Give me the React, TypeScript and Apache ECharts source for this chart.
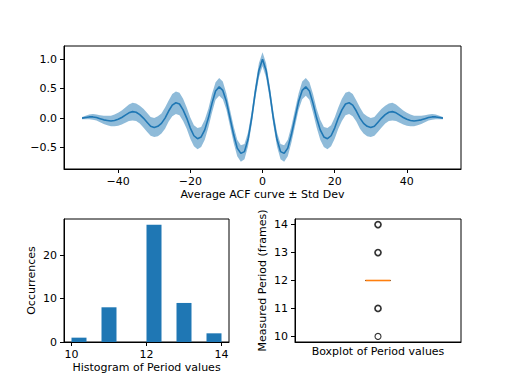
import React, { useEffect, useRef } from "react";
import * as echarts from "echarts";

// ---- Data ----
const lags: number[] = Array.from({ length: 101 }, (_, i) => i - 50);

const acfMean: number[] = [
  0.0, 0.01, 0.02, 0.02, 0.01, -0.01, -0.03, -0.04, -0.05, -0.04,
  -0.02, 0.01, 0.05, 0.09, 0.11, 0.1, 0.06, 0.0, -0.07, -0.14,
  -0.16, -0.14, -0.09, 0.0, 0.12, 0.22, 0.26, 0.24, 0.14, 0.0,
  -0.17, -0.3, -0.35, -0.32, -0.2, 0.0, 0.25, 0.46, 0.53, 0.47,
  0.28, 0.0, -0.28, -0.51, -0.6, -0.57, -0.36, 0.0, 0.44, 0.81,
  1.0,
  0.81, 0.44, 0.0, -0.36, -0.57, -0.6, -0.51, -0.28, 0.0, 0.28,
  0.47, 0.53, 0.46, 0.25, 0.0, -0.2, -0.32, -0.35, -0.3, -0.17,
  0.0, 0.14, 0.24, 0.26, 0.22, 0.12, 0.0, -0.09, -0.14, -0.16,
  -0.14, -0.07, 0.0, 0.06, 0.1, 0.11, 0.09, 0.05, 0.01, -0.02,
  -0.04, -0.05, -0.04, -0.03, -0.01, 0.01, 0.02, 0.02, 0.01, 0.0,
];

const acfStd: number[] = [
  0.02, 0.03, 0.04, 0.05, 0.05, 0.06, 0.07, 0.08, 0.09, 0.1,
  0.11, 0.12, 0.13, 0.14, 0.15, 0.15, 0.15, 0.16, 0.16, 0.16,
  0.16, 0.17, 0.17, 0.18, 0.18, 0.19, 0.19, 0.19, 0.19, 0.18,
  0.18, 0.18, 0.18, 0.17, 0.17, 0.16, 0.16, 0.15, 0.15, 0.15,
  0.14, 0.14, 0.14, 0.14, 0.14, 0.13, 0.12, 0.11, 0.11, 0.12,
  0.12,
  0.12, 0.11, 0.11, 0.12, 0.13, 0.14, 0.14, 0.14, 0.14, 0.14,
  0.15, 0.15, 0.15, 0.16, 0.16, 0.17, 0.17, 0.18, 0.18, 0.18,
  0.18, 0.19, 0.19, 0.19, 0.19, 0.18, 0.18, 0.17, 0.17, 0.16,
  0.16, 0.16, 0.16, 0.15, 0.15, 0.15, 0.14, 0.13, 0.12, 0.11,
  0.1, 0.09, 0.08, 0.07, 0.06, 0.05, 0.05, 0.04, 0.03, 0.02,
];

const acfXTicks = [-40, -20, 0, 20, 40];
const acfYTicks = [-0.5, 0.0, 0.5, 1.0];

const histBinEdges = [10.0, 10.4, 10.8, 11.2, 11.6, 12.0, 12.4, 12.8, 13.2, 13.6, 14.0];
const histCounts = [1, 0, 8, 0, 0, 27, 0, 9, 0, 2];
const histXTicks = [10, 12, 14];
const histYTicks = [0, 10, 20];

const boxQ1 = 12;
const boxMedian = 12;
const boxQ3 = 12;
const boxFliers = [10, 11, 13, 14];
const boxFlierCounts = [1, 8, 9, 2];
const boxYTicks = [10, 11, 12, 13, 14];

// ---- Styles ----
const BLUE = "#1f77b4";
const FONT = "DejaVu Sans";
const FS = 11;
const fmt = (v: number, d: number) => v.toFixed(d).replace("-", "\u2212");

const textStyle = { color: "#000", fontSize: FS, fontFamily: FONT };

function axisCommon(ticks: number[] | null, digits: number, margin = 6) {
  return {
    axisLine: { show: true, onZero: false, lineStyle: { color: "#000", width: 1 } },
    splitLine: { show: false },
    axisTick: ticks
      ? { show: true, length: 4, customValues: ticks, lineStyle: { color: "#000", width: 1 } }
      : { show: false },
    axisLabel: ticks
      ? {
          show: true,
          customValues: ticks,
          formatter: (v: number) => fmt(v, digits),
          ...textStyle,
          margin,
        }
      : { show: false },
    nameTextStyle: textStyle,
    nameLocation: "middle",
  };
}

const gridBase = { show: true, borderColor: "#000", borderWidth: 1, backgroundColor: "transparent" };

export default function App() {
  const ref = useRef<HTMLDivElement>(null);
  useEffect(() => {
    if (!ref.current) return;
    const chart = echarts.init(ref.current, null, { renderer: "svg" });

    const option: any = {
      animation: false,
      backgroundColor: "#fff",
      textStyle: { fontFamily: FONT },
      grid: [
        { ...gridBase, left: 64, top: 46, width: 397, height: 123 },
        { ...gridBase, left: 64, top: 219, width: 165, height: 123 },
        { ...gridBase, left: 295, top: 219, width: 166, height: 123 },
      ],
      xAxis: [
        {
          gridIndex: 0, type: "value", min: -55, max: 55,
          ...axisCommon(acfXTicks, 0, 7),
          name: "Average ACF curve \u00b1 Std Dev", nameGap: 20,
        },
        {
          gridIndex: 1, type: "value", min: 9.8, max: 14.2,
          ...axisCommon(histXTicks, 0, 7),
          name: "Histogram of Period values", nameGap: 20,
        },
        {
          gridIndex: 2, type: "value", min: 0.5, max: 1.5,
          ...axisCommon(null, 0),
          name: "Boxplot of Period values", nameGap: 4,
        },
      ],
      yAxis: [
        {
          gridIndex: 0, type: "value", min: -0.865, max: 1.225,
          ...axisCommon(acfYTicks, 1, 7),
        },
        {
          gridIndex: 1, type: "value", min: 0, max: 28.35,
          ...axisCommon(histYTicks, 0, 7),
          name: "Occurrences", nameGap: 27, nameRotate: 90,
        },
        {
          gridIndex: 2, type: "value", min: 9.8, max: 14.2,
          ...axisCommon(boxYTicks, 0, 7),
          name: "Measured Period (frames)", nameGap: 27, nameRotate: 90,
        },
      ],
      series: [
        {
          type: "custom",
          xAxisIndex: 0, yAxisIndex: 0,
          silent: true,
          data: [[0, 0]],
          renderItem: (_p: any, api: any) => {
            const pts: number[][] = [];
            for (let i = 0; i < lags.length; i++) pts.push(api.coord([lags[i], acfMean[i] + acfStd[i]]));
            for (let i = lags.length - 1; i >= 0; i--) pts.push(api.coord([lags[i], acfMean[i] - acfStd[i]]));
            return { type: "polygon", shape: { points: pts }, style: { fill: "rgba(31,119,180,0.5)", stroke: "none" } };
          },
        },
        {
          type: "line",
          xAxisIndex: 0, yAxisIndex: 0,
          data: lags.map((x, i) => [x, acfMean[i]]),
          showSymbol: false, symbol: "none",
          lineStyle: { color: BLUE, width: 1.6 },
          itemStyle: { color: BLUE },
        },
        {
          type: "custom",
          xAxisIndex: 1, yAxisIndex: 1,
          encode: { x: [0, 1], y: 2 },
          data: histCounts.map((c, i) => [histBinEdges[i], histBinEdges[i + 1], c]),
          renderItem: (_p: any, api: any) => {
            const a = api.coord([api.value(0), 0]);
            const b = api.coord([api.value(1), api.value(2)]);
            return {
              type: "rect",
              shape: { x: a[0], y: b[1], width: b[0] - a[0], height: a[1] - b[1] },
              style: { fill: BLUE },
            };
          },
        },
        {
          type: "custom",
          xAxisIndex: 2, yAxisIndex: 2,
          encode: { x: 0, y: [1, 2, 3] },
          data: [[1, boxQ1, boxMedian, boxQ3]],
          renderItem: (_p: any, api: any) => {
            const q1l = api.coord([0.925, api.value(1)]);
            const q3r = api.coord([1.075, api.value(3)]);
            const ml = api.coord([0.925, api.value(2)]);
            const mr = api.coord([1.075, api.value(2)]);
            return {
              type: "group",
              children: [
                {
                  type: "rect",
                  shape: { x: q1l[0], y: q3r[1], width: q3r[0] - q1l[0], height: q1l[1] - q3r[1] },
                  style: { fill: "none", stroke: "#000", lineWidth: 1 },
                },
                {
                  type: "line",
                  shape: { x1: ml[0], y1: ml[1], x2: mr[0], y2: mr[1] },
                  style: { stroke: "#ff7f0e", lineWidth: 1.6 },
                },
              ],
            };
          },
        },
        {
          type: "scatter",
          xAxisIndex: 2, yAxisIndex: 2,
          symbol: "circle",
          symbolSize: 6,
          data: boxFliers.map((v, i) => ({
            value: [1, v],
            itemStyle: {
              color: "rgba(0,0,0,0)",
              borderColor: "#000",
              borderWidth: boxFlierCounts[i] > 1 ? 1.7 : 1.1,
            },
          })),
        },
      ],
    };
    chart.setOption(option);
    return () => chart.dispose();
  }, []);
  return (
    <div
      ref={ref}
      style={{ position: "fixed", left: 0, top: 0, width: 512, height: 384, background: "#fff" }}
    />
  );
}
